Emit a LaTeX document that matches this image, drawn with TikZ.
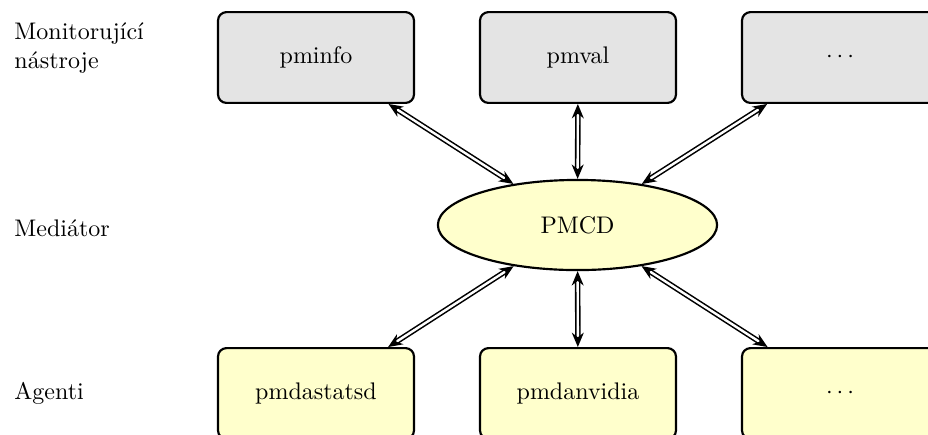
\documentclass[tikz,border=0pt]{standalone}
\usepackage{fontspec}
\usetikzlibrary{shapes.geometric,arrows.meta}

\definecolor{toolgray}{HTML}{E4E4E4}
\definecolor{agentyellow}{HTML}{FFFFCC}

\tikzset{
  toolbox/.style={draw, line width=0.9pt, rounded corners=3.5pt, fill=toolgray,
    minimum width=2.87cm, minimum height=1.33cm},
  agentbox/.style={toolbox, fill=agentyellow},
  pmcdnode/.style={draw, line width=0.9pt, ellipse, fill=agentyellow,
    minimum width=4.09cm, minimum height=1.32cm},
  link/.style={double, line width=0.65pt, double distance=1pt,
    {Stealth[length=6pt,width=5pt]}-{Stealth[length=6pt,width=5pt]}},
  levellabel/.style={anchor=west, align=left, inner sep=0pt}
}

\begin{document}
\begin{tikzpicture}[x=0.014655cm, y=-0.014655cm]
        \clip (0,0) rectangle (928,434);
        \useasboundingbox (0,0) rectangle (928,434);

        \node[levellabel] (lbltools) at (14,48) {Monitorující\\nástroje};
        \node[levellabel] (lblmed) at (14,228) {Mediátor};
        \node[levellabel] (lblagents) at (14,393) {Agenti};

        \node[toolbox] (pminfo) at (316,57.5) {pminfo};
        \node[toolbox] (pmval) at (578,57.5) {pmval};
        \node[toolbox] (tooldots) at (840,57.5) {\(\cdots\)};

        \node[pmcdnode] (pmcd) at (577.5,225) {PMCD};

        \node[agentbox] (pmdastatsd) at (316,393.5) {pmdastatsd};
        \node[agentbox] (pmdanvidia) at (578,393.5) {pmdanvidia};
        \node[agentbox] (agentdots) at (840,393.5) {\(\cdots\)};

        \draw[link] (pminfo) -- (pmcd);
        \draw[link] (pmval) -- (pmcd);
        \draw[link] (tooldots) -- (pmcd);
        \draw[link] (pmdastatsd) -- (pmcd);
        \draw[link] (pmdanvidia) -- (pmcd);
        \draw[link] (agentdots) -- (pmcd);

      \end{tikzpicture}
\end{document}
